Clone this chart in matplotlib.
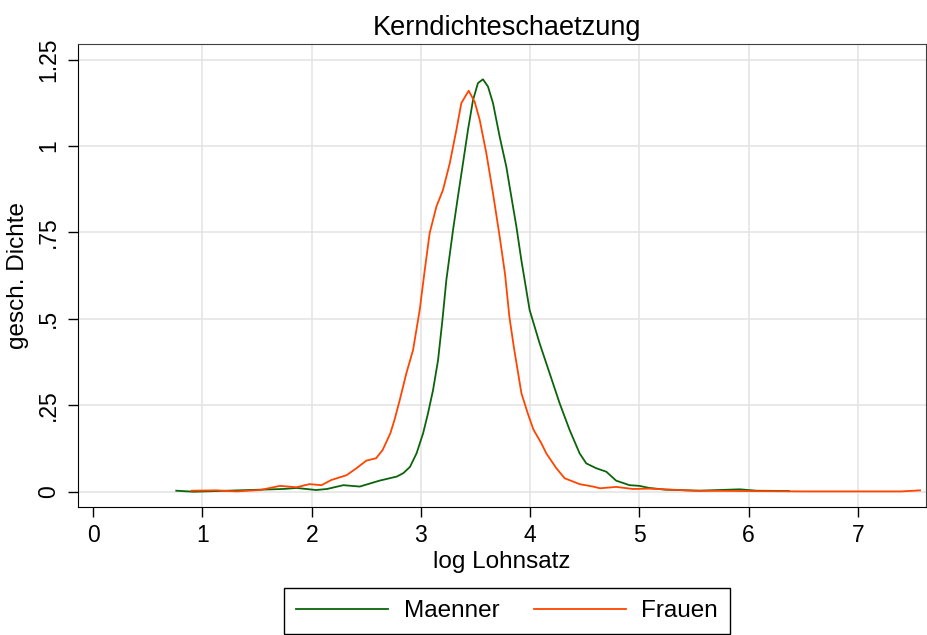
import matplotlib.pyplot as plt

# Kerndichteschaetzung log Lohnsatz, nach Geschlecht
maenner_x = [0.76, 0.92, 1.13, 1.43, 1.74, 1.86, 2.04, 2.14, 2.29, 2.44, 2.62,
             2.78, 2.84, 2.90, 2.96, 3.02, 3.065, 3.111, 3.157, 3.197, 3.233,
             3.294, 3.339, 3.385, 3.431, 3.477, 3.522, 3.568, 3.614, 3.66,
             3.721, 3.782, 3.812, 3.874, 3.919, 3.995, 4.087, 4.178, 4.27, 4.361,
             4.453, 4.514, 4.605, 4.697, 4.788, 4.91, 5.00, 5.09, 5.24, 5.55,
             5.92, 6.07, 6.37]
maenner_y = [0.003, 0.0, 0.002, 0.005, 0.008, 0.011, 0.005, 0.008, 0.019, 0.015,
             0.032, 0.044, 0.054, 0.072, 0.111, 0.169, 0.227, 0.294, 0.381, 0.497,
             0.613, 0.757, 0.854, 0.95, 1.047, 1.133, 1.182, 1.193, 1.172,
             1.124, 1.027, 0.94, 0.883, 0.767, 0.671, 0.526, 0.429, 0.343, 0.256,
             0.179, 0.111, 0.082, 0.068, 0.058, 0.032, 0.019, 0.017, 0.011, 0.006,
             0.003, 0.007, 0.003, 0.002]

frauen_x = [0.90, 1.13, 1.31, 1.53, 1.71, 1.86, 1.98, 2.09, 2.18, 2.32, 2.41,
            2.50, 2.59, 2.65, 2.72, 2.76, 2.806, 2.867, 2.928, 2.989, 3.035, 3.08,
            3.142, 3.202, 3.264, 3.325, 3.37, 3.437, 3.492, 3.538, 3.599, 3.66,
            3.72, 3.77, 3.81, 3.85, 3.92, 3.98, 4.03, 4.103, 4.148, 4.24, 4.316,
            4.453, 4.575, 4.64, 4.788, 4.94, 5.09, 5.5, 6.0, 6.5, 7.0, 7.4, 7.57]
frauen_y = [0.003, 0.004, 0.001, 0.005, 0.017, 0.013, 0.022, 0.019, 0.034, 0.048,
            0.068, 0.09, 0.097, 0.121, 0.169, 0.21, 0.265, 0.343, 0.41, 0.526,
            0.641, 0.748, 0.825, 0.873, 0.95, 1.047, 1.124, 1.16, 1.128, 1.076,
            0.979, 0.863, 0.74, 0.63, 0.506, 0.42, 0.285, 0.225, 0.18, 0.14,
            0.111, 0.068, 0.039, 0.022, 0.015, 0.01, 0.014, 0.008, 0.009, 0.003,
            0.002, 0.001, 0.001, 0.001, 0.004]

x_ticks = [0, 1, 2, 3, 4, 5, 6, 7]
y_ticks = [0, 0.25, 0.5, 0.75, 1, 1.25]
y_tick_labels = ["0", ".25", ".5", ".75", "1", "1.25"]

plt.rcParams["font.family"] = ["Liberation Sans", "DejaVu Sans"]

fig = plt.figure(figsize=(9.27, 6.35), dpi=100)
ax = fig.add_axes([0.0841, 0.2011, 0.9149, 0.7301])

ax.plot(maenner_x, maenner_y, color="#0b640b", lw=1.3, label="Maenner")
ax.plot(frauen_x, frauen_y, color="#ff4500", lw=1.3, label="Frauen")

ax.set_xlim(-0.14, 7.625)
ax.set_ylim(-0.045, 1.296)
ax.set_xticks(x_ticks)
ax.set_yticks(y_ticks)
ax.set_yticklabels(y_tick_labels, rotation=90, va="center")
ax.tick_params(axis="both", labelsize=16.5, direction="out", length=7, width=1)
ax.tick_params(axis="y", pad=6)
ax.tick_params(axis="x", pad=5)

ax.grid(True, color="#e3e3e3", lw=1.1)
ax.set_axisbelow(True)
ax.get_xgridlines()[0].set_visible(False)

for side in ["top", "right"]:
    ax.spines[side].set_color("#404040")
for side in ["left", "bottom"]:
    ax.spines[side].set_color("black")

ax.set_title("Kerndichteschaetzung", fontsize=19.5, pad=6, x=0.5053)
ax.set_xlabel("log Lohnsatz", fontsize=17.5, labelpad=3)
ax.set_ylabel("gesch. Dichte", fontsize=17.5, labelpad=6)

leg = fig.legend(loc="center", bbox_to_anchor=(507 / 927, 1 - 611 / 635), ncol=2,
                 fontsize=17.5, handlelength=3.8, handletextpad=0.64,
                 columnspacing=1.41, borderpad=0.5, fancybox=False,
                 edgecolor="black", framealpha=1)
leg.get_frame().set_linewidth(1.0)

fig.savefig("out.png", dpi=100)
